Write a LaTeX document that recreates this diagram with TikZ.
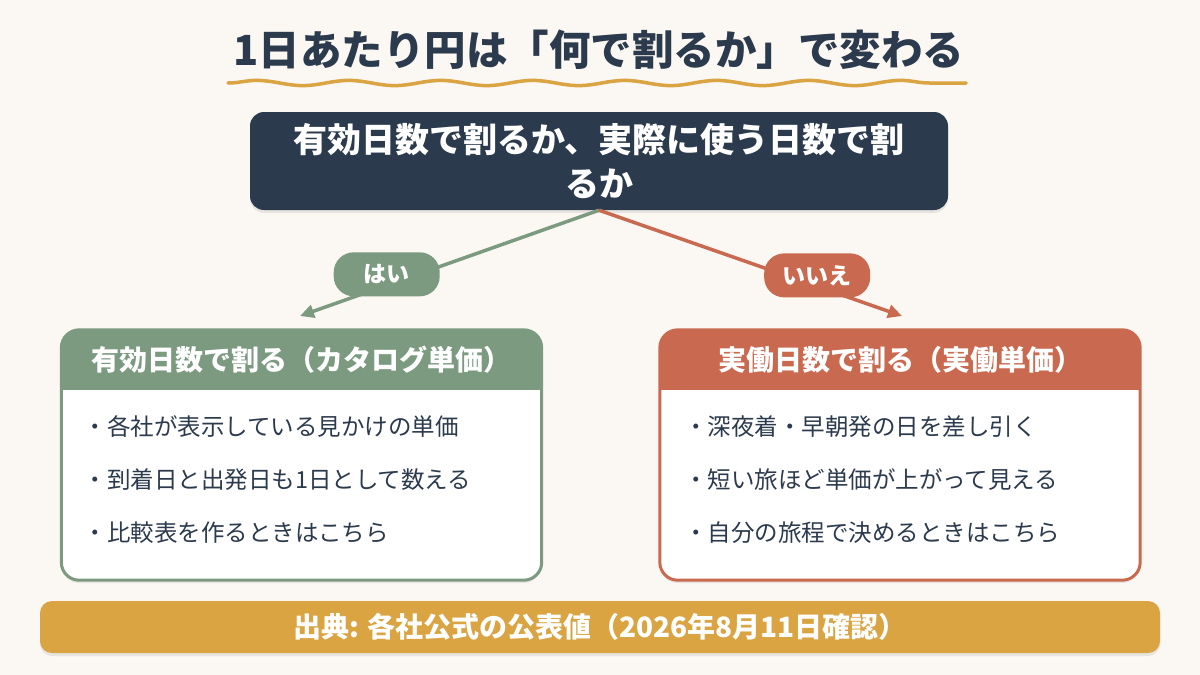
\documentclass[tikz,border=0pt]{standalone}
\usepackage{fontspec}
\setmainfont{Noto Sans CJK JP}
\usepackage{tikz}
\usepackage{xcolor}
\usetikzlibrary{arrows.meta,positioning,calc,shadows,decorations.pathmorphing}
\definecolor{PageCream}{RGB}{251,247,242}
\definecolor{NavyInk}{RGB}{43,58,76}
\definecolor{SageGreen}{RGB}{123,154,128}
\definecolor{Terracotta}{RGB}{201,106,80}
\definecolor{GoldBand}{RGB}{217,164,65}

\tikzset{
  softshadow/.style={drop shadow={opacity=0.15, shadow xshift=0pt, shadow yshift=-3pt}},
  pill/.style={fill=#1, text=white, rounded corners=20pt, minimum width=106pt,
               minimum height=44pt, inner sep=0pt, font=\fontsize{23}{26}\selectfont\bfseries},
  cardbody/.style={fill=white, minimum width=480pt, minimum height=250pt,
                   inner sep=0pt, rounded corners=18pt, softshadow},
  cardhead/.style={text=white, inner sep=0pt, minimum height=60pt,
                   font=\fontsize{28}{32}\selectfont\bfseries},
  bulletline/.style={text=NavyInk, inner sep=0pt, font=\fontsize{23.5}{27}\selectfont},
  branch/.style={line width=3.5pt, -{Triangle[length=14pt,width=13pt]}},
}

\begin{document}
\begin{tikzpicture}[x=1pt,y=-1pt]
\fill[PageCream] (0,0) rectangle (1200,675);
\useasboundingbox (0,0) rectangle (1200,675);

\node[text=NavyInk, font=\fontsize{41.5}{46}\selectfont\bfseries] (title) at (599,50)
  {1日あたり円は「何で割るか」で変わる};
\coordinate (waveL) at (228,83);
\coordinate (waveR) at (966,83);
\draw[GoldBand, line width=3.5pt, line cap=round, decorate,
      decoration={snake, segment length=92pt, amplitude=2.6pt}] (waveL) -- (waveR);

\node[fill=NavyInk, text=white, rounded corners=14pt, minimum width=698pt,
      minimum height=98pt, align=center, softshadow,
      font=\fontsize{34}{44}\selectfont\bfseries] (q) at (599,161)
  {有効日数で割るか、実際に使う日数で割\\るか};

\coordinate (yesEnd) at (300,316);
\coordinate (noEnd) at (902,316);
\draw[branch, SageGreen] (q.south) -- node[pill=SageGreen, pos=0.71, yshift=11pt] (yes) {はい} (yesEnd);
\draw[branch, Terracotta] (q.south) -- node[pill=Terracotta, pos=0.72, yshift=11pt] (no) {いいえ} (noEnd);

\node[cardbody] (yesBox) at (301.5,455) {};
\fill[SageGreen] ([yshift=-60pt]yesBox.north west) [rounded corners=18pt] -- (yesBox.north west)
  -- (yesBox.north east) [sharp corners] -- ([yshift=-60pt]yesBox.north east) -- cycle;
\draw[SageGreen, line width=3pt, rounded corners=18pt] (yesBox.north west) rectangle (yesBox.south east);
\node[cardhead, below=0pt of yesBox.north] (yesHead) {有効日数で割る（カタログ単価）};
\node[bulletline, anchor=west] (yes1) at ([xshift=22pt,yshift=-97pt]yesBox.north west) {・各社が表示している見かけの単価};
\node[bulletline, below=53pt of yes1.west, anchor=west] (yes2) {・到着日と出発日も1日として数える};
\node[bulletline, below=53pt of yes2.west, anchor=west] (yes3) {・比較表を作るときはこちら};

\node[cardbody] (noBox) at (900,455) {};
\fill[Terracotta] ([yshift=-60pt]noBox.north west) [rounded corners=18pt] -- (noBox.north west)
  -- (noBox.north east) [sharp corners] -- ([yshift=-60pt]noBox.north east) -- cycle;
\draw[Terracotta, line width=3pt, rounded corners=18pt] (noBox.north west) rectangle (noBox.south east);
\node[cardhead, below=0pt of noBox.north] (noHead) {実働日数で割る（実働単価）};
\node[bulletline, anchor=west] (no1) at ([xshift=24pt,yshift=-97pt]noBox.north west) {・深夜着・早朝発の日を差し引く};
\node[bulletline, below=53pt of no1.west, anchor=west] (no2) {・短い旅ほど単価が上がって見える};
\node[bulletline, below=53pt of no2.west, anchor=west] (no3) {・自分の旅程で決めるときはこちら};

\node[fill=GoldBand, text=white, rounded corners=12pt, minimum width=1120pt,
      minimum height=52pt, softshadow, font=\fontsize{28}{30}\selectfont\bfseries] (source) at (600,627)
  {出典: 各社公式の公表値（2026年8月11日確認）};
\end{tikzpicture}
\end{document}
